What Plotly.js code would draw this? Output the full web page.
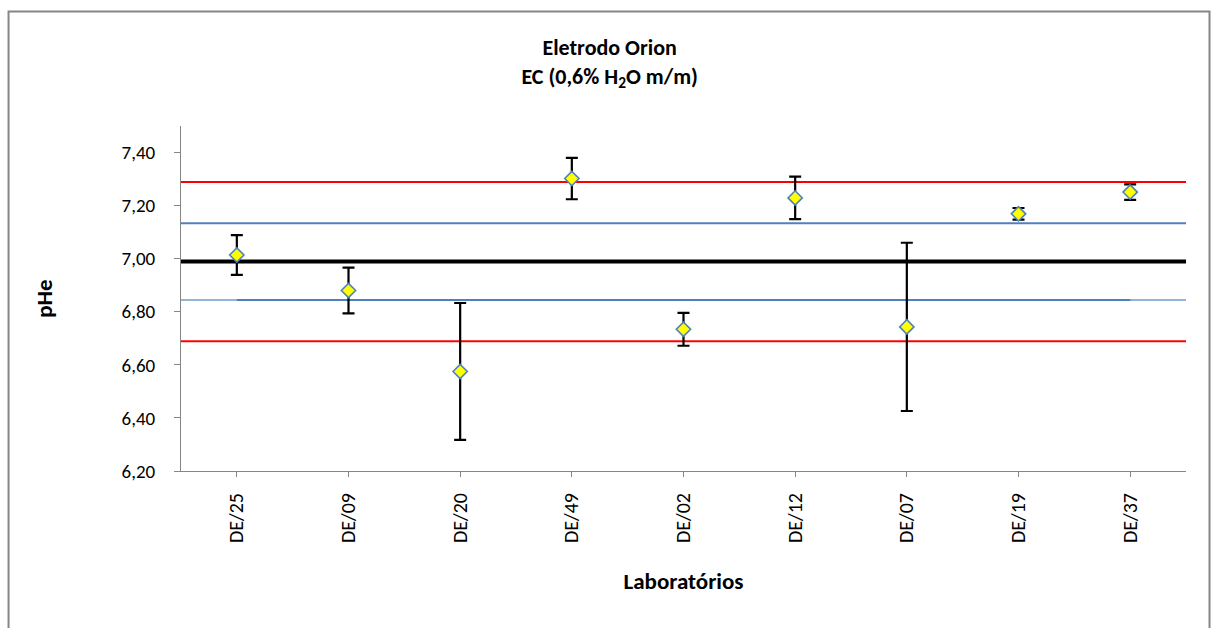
<!DOCTYPE html>
<html>
<head>
<meta charset="utf-8">
<script src="https://cdn.plot.ly/plotly-3.0.1.min.js"></script>
<style>
  html, body { margin: 0; padding: 0; background: #ffffff; }
  #chart { width: 1212px; height: 628px; }
</style>
</head>
<body>
<div id="chart"></div>
<script>
// ---- data ----
var categories = ["DE/25", "DE/09", "DE/20", "DE/49", "DE/02", "DE/12", "DE/07", "DE/19", "DE/37"];
var pHeValues  = [7.014, 6.880, 6.575, 7.302, 6.734, 7.229, 6.743, 7.169, 7.251];
var pHeErrors  = [0.075, 0.086, 0.258, 0.078, 0.062, 0.080, 0.317, 0.022, 0.029];
var refValue   = 6.989;
var innerLimit = 0.145;   // blue lines
var outerLimit = 0.300;   // red lines
var yTicks     = [6.2, 6.4, 6.6, 6.8, 7.0, 7.2, 7.4];

var idx = categories.map(function (c, i) { return i; });
var fullX = [-0.5, categories.length - 0.5];
var firstLast = [0, categories.length - 1];

var font = "Calibri, Carlito, Lato, 'Liberation Sans', sans-serif";

function hline(xs, yv, color, width) {
  return {
    x: xs, y: xs.map(function () { return yv; }),
    mode: "lines", type: "scatter",
    line: { color: color, width: width },
    hoverinfo: "skip", showlegend: false
  };
}

var traces = [
  hline(fullX, refValue + outerLimit, "#FF0000", 2),
  hline(fullX, refValue - outerLimit, "#FF0000", 2),
  hline(fullX, refValue + innerLimit, "#4F81BD", 2),
  hline(fullX, refValue - innerLimit, "#95B3D7", 2),
  hline(firstLast, refValue - innerLimit, "#4F81BD", 2),
  hline(fullX, refValue, "#000000", 4),
  {
    x: idx, y: pHeValues, type: "scatter", mode: "markers",
    error_y: { type: "data", array: pHeErrors, visible: true, color: "#000000", thickness: 2.2, width: 6 },
    marker: { symbol: "diamond", size: 11, color: "#FFFF00", line: { color: "#4F81BD", width: 1.6 } },
    showlegend: false
  }
];

var layout = {
  width: 1212, height: 628,
  margin: { l: 181, r: 26, t: 126, b: 157 },
  paper_bgcolor: "#ffffff", plot_bgcolor: "#ffffff",
  separators: ",.",
  font: { family: font, color: "#000000", size: 19 },
  showlegend: false,
  title: {
    text: "<b>Eletrodo Orion</b><br><b>EC (0,6% H<sub>2</sub>O m/m)</b>",
    x: 0.503, xref: "container", xanchor: "center",
    y: 0.912, yref: "container", yanchor: "top",
    font: { family: font, size: 22, color: "#000000" }
  },
  xaxis: {
    range: fullX,
    tickmode: "array", tickvals: idx, ticktext: categories,
    tickangle: -90,
    showgrid: false, zeroline: false,
    showline: true, linecolor: "#868686", linewidth: 1,
    ticks: "outside", ticklen: 5, tickcolor: "#868686", tickwidth: 1,
    ticklabelstandoff: 8,
    tickfont: { family: font, size: 20, color: "#000000" },
    title: { text: "<b>Laboratórios</b>", font: { family: font, size: 23, color: "#000000" }, standoff: 30 }
  },
  yaxis: {
    range: [6.2, 7.5],
    tickmode: "array", tickvals: yTicks, tickformat: ".2f",
    showgrid: false, zeroline: false,
    showline: true, linecolor: "#868686", linewidth: 1,
    ticks: "outside", ticklen: 6, tickcolor: "#868686", tickwidth: 1,
    ticklabelstandoff: 15,
    tickfont: { family: font, size: 19, color: "#000000" },
    title: { text: "<b>pHe</b>", font: { family: font, size: 23, color: "#000000" }, standoff: 62 }
  },
  shapes: [
    { type: "rect", xref: "paper", yref: "paper",
      x0: -0.1716, x1: 1.0234, y0: -0.6, y1: 1.332,
      line: { color: "#868686", width: 2 }, fillcolor: "rgba(0,0,0,0)", layer: "below" }
  ]
};

Plotly.newPlot("chart", traces, layout, { displayModeBar: false, staticPlot: true });
</script>
</body>
</html>
